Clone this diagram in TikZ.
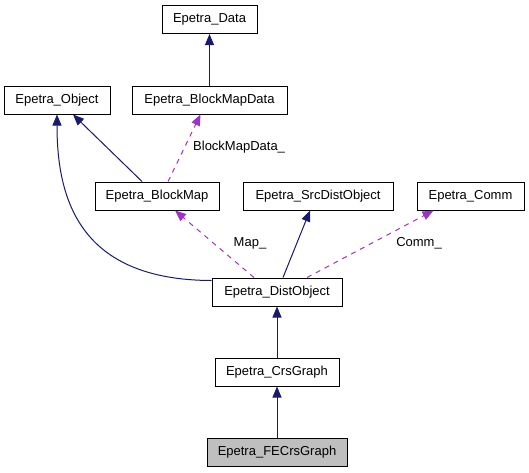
\documentclass[tikz,border=0pt]{standalone}
\usepackage{fontspec}
\setmainfont{Liberation Sans}
\usetikzlibrary{arrows.meta}
\definecolor{inhcol}{HTML}{191970}
\definecolor{usecol}{HTML}{9A32CD}
\definecolor{hlfill}{HTML}{BFBFBF}
\begin{document}
\begin{tikzpicture}[x=1pt,y=-1pt,
  cls/.style={draw=black,line width=1pt,fill=white,minimum height=28pt,inner sep=0pt,font=\fontsize{13}{15}\selectfont,text=black},
  inh/.style={draw=inhcol,line width=1pt,-{Triangle[length=11pt,width=9pt]}},
  use/.style={draw=usecol,line width=1pt,dash pattern=on 5pt off 5pt,-{Triangle[length=11pt,width=9pt]}},
  lbl/.style={font=\fontsize{13}{15}\selectfont,text=black,inner sep=0pt}]
\useasboundingbox[fill=white] (0,0) rectangle (529,472);
\node[cls,minimum width=95pt] (data) at (209.5,19.5) {Epetra\_Data};
\node[cls,minimum width=106pt] (obj) at (57,100) {Epetra\_Object};
\node[cls,minimum width=155pt] (bmd) at (209.5,100) {Epetra\_BlockMapData};
\node[cls,minimum width=124pt] (bm) at (157,196) {Epetra\_BlockMap};
\node[cls,minimum width=150pt] (sdo) at (318,196) {Epetra\_SrcDistObject};
\node[cls,minimum width=107pt] (comm) at (470.5,196) {Epetra\_Comm};
\node[cls,minimum width=130pt] (do) at (277,292) {Epetra\_DistObject};
\node[cls,minimum width=124pt] (crs) at (277,372) {Epetra\_CrsGraph};
\node[cls,minimum width=140pt,fill=hlfill] (fe) at (277,452) {Epetra\_FECrsGraph};
% inheritance
\draw[inh] (bmd.north) -- (data.south);
\draw[inh] ([xshift=-15pt]bm.north) -- ([xshift=16pt]obj.south);
\draw[inh] ([yshift=-3pt]do.north west) .. controls (80,280) and (57,200) .. (obj.south);
\draw[inh] ([xshift=6pt]do.north) -- ([xshift=-8pt]sdo.south);
\draw[inh] (crs.north) -- (do.south);
\draw[inh] (fe.north) -- (crs.south);
% usage
\draw[use] ([xshift=11pt]bm.north) -- ([xshift=-9pt]bmd.south);
\node[lbl,anchor=west] (lbmd) at (193,147) {BlockMapData\_};
\draw[use] ([xshift=-23pt]do.north) -- ([xshift=18pt]bm.south);
\node[lbl] (lmap) at (250,243) {Map\_};
\draw[use] ([xshift=30pt]do.north) -- ([xshift=-37pt]comm.south);
\node[lbl] (lcomm) at (419,243) {Comm\_};
\end{tikzpicture}
\end{document}
